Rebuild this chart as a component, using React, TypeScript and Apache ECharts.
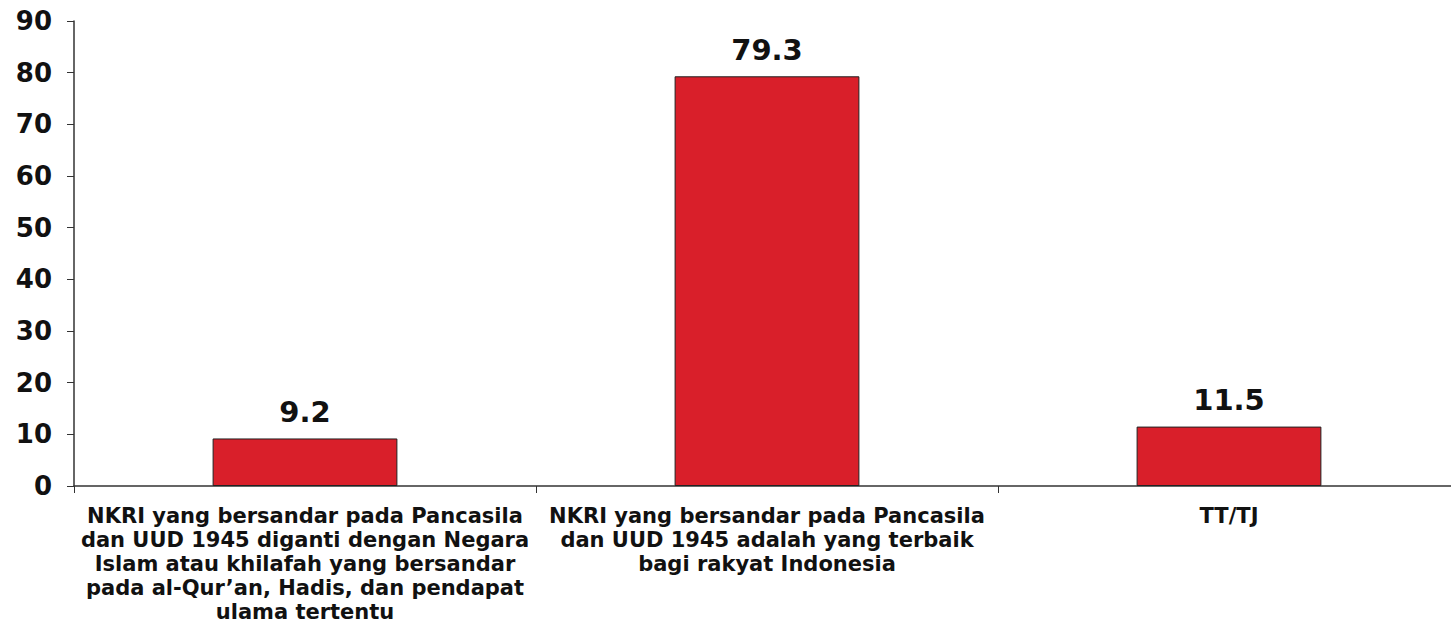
import React, { useEffect, useRef } from "react";
import * as echarts from "echarts";

const categories = [
  "NKRI yang bersandar pada Pancasila\ndan UUD 1945 diganti dengan Negara\nIslam atau khilafah yang bersandar\npada al-Qur’an, Hadis, dan pendapat\nulama tertentu",
  "NKRI yang bersandar pada Pancasila\ndan UUD 1945 adalah yang terbaik\nbagi rakyat Indonesia",
  "TT/TJ",
];
const values = [9.2, 79.3, 11.5];
const yMin = 0;
const yMax = 90;
const yStep = 10;

const FONT = "Verdana, 'DejaVu Sans', sans-serif";

export default function App() {
  const ref = useRef<HTMLDivElement>(null);
  useEffect(() => {
    if (!ref.current) return;
    const chart = echarts.init(ref.current, undefined, { renderer: "svg" });
    chart.setOption({
      animation: false,
      grid: { left: 74, right: 0, top: 21, bottom: 141, containLabel: false },
      xAxis: {
        type: "category",
        data: categories,
        axisLine: { lineStyle: { color: "#333", width: 1.5 } },
        axisTick: { show: true, length: 7, lineStyle: { color: "#333" } },
        axisLabel: {
          interval: 0,
          color: "#111",
          fontFamily: FONT,
          fontWeight: "bold",
          fontSize: 21,
          lineHeight: 24,
          margin: 18,
          align: "center",
        },
      },
      yAxis: {
        type: "value",
        min: yMin,
        max: yMax,
        interval: yStep,
        splitLine: { show: false },
        axisLine: { show: true, lineStyle: { color: "#333", width: 1.5 } },
        axisTick: { show: true, length: 7, lineStyle: { color: "#333" } },
        axisLabel: {
          color: "#111",
          fontFamily: FONT,
          fontWeight: "bold",
          fontSize: 26,
          margin: 22,
        },
      },
      series: [
        {
          type: "bar",
          data: values,
          barWidth: "40%",
          itemStyle: { color: "#d91f2a", borderColor: "#222", borderWidth: 1 },
          label: {
            show: true,
            position: "top",
            distance: 12,
            color: "#111",
            fontFamily: FONT,
            fontWeight: "bold",
            fontSize: 29,
          },
        },
      ],
    });
    return () => chart.dispose();
  }, []);
  return (
    <div style={{ position: "absolute", left: 0, top: 0, width: 1451, height: 627, overflow: "hidden" }}>
      <div ref={ref} style={{ width: 1460, height: 627 }} />
    </div>
  );
}
